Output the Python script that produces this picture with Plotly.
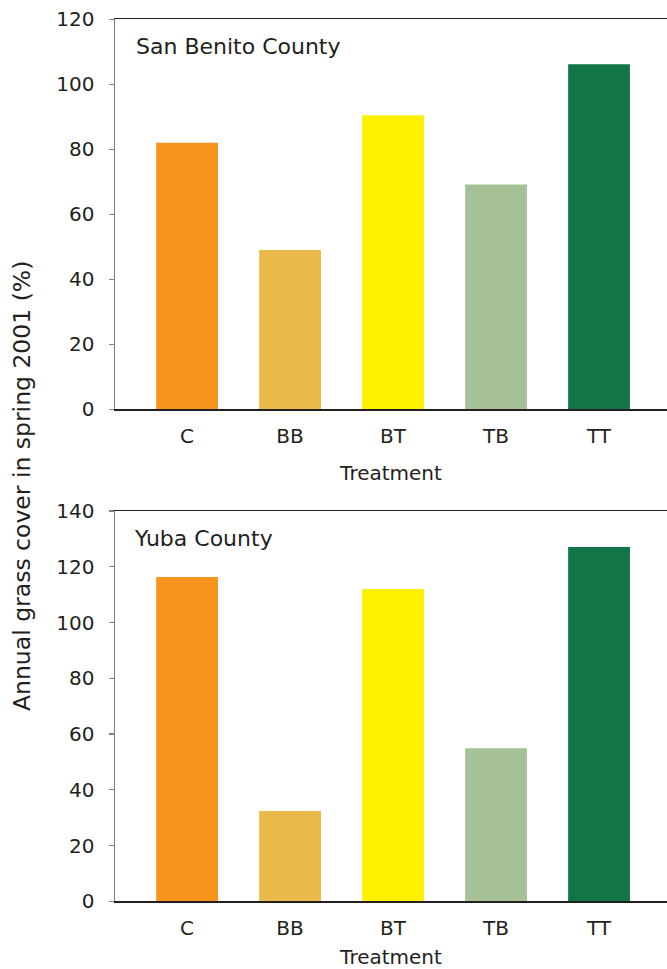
import plotly.graph_objects as go

treatments = ["C", "BB", "BT", "TB", "TT"]
san_benito = [82, 49, 90.5, 69.2, 106.2]
yuba = [116.3, 32.4, 112.0, 54.9, 127.1]
bar_colors = ["#F7941D", "#EBB94A", "#FFF000", "#A7C197", "#117548"]
y_ticks_top = [0, 20, 40, 60, 80, 100, 120]
y_ticks_bottom = [0, 20, 40, 60, 80, 100, 120, 140]

FONT = "DejaVu Sans"
TXT = "#231F20"
H = 969.0
W = 667.0

fig = go.Figure()
fig.add_trace(go.Bar(x=treatments, y=san_benito, marker=dict(color=bar_colors, line=dict(width=0)),
                     xaxis="x", yaxis="y", showlegend=False))
fig.add_trace(go.Bar(x=treatments, y=yuba, marker=dict(color=bar_colors, line=dict(width=0)),
                     xaxis="x2", yaxis="y2", showlegend=False))

def xax(anchor, standoff):
    return dict(anchor=anchor, domain=[0, 1], range=[-0.7, 4.66], showline=True, linecolor="#231F20",
                linewidth=1.5, mirror=True, ticks="", showgrid=False, zeroline=False,
                tickfont=dict(family=FONT, size=20, color=TXT), ticklabelstandoff=8,
                title=dict(text="Treatment", font=dict(family=FONT, size=20, color=TXT), standoff=standoff),
                automargin=False, fixedrange=True)

def yax(anchor, dom, rng, tickvals):
    return dict(anchor=anchor, domain=dom, range=rng, tickvals=tickvals, showline=True, linecolor="#808080",
                linewidth=1.5, ticks="outside", ticklen=5, tickcolor="#808080", tickwidth=1.2,
                showgrid=False, zeroline=False, ticklabelstandoff=10, automargin=False,
                tickfont=dict(family=FONT, size=20, color=TXT), fixedrange=True)

fig.update_layout(
    width=667, height=969,
    margin=dict(l=115, r=0, t=0, b=0, autoexpand=False),
    paper_bgcolor="white", plot_bgcolor="white",
    bargap=0.4,
    xaxis=xax("y", 19),
    yaxis=yax("x", [1 - 409.3 / H, 1 - 19.3 / H], [0, 120], y_ticks_top),
    xaxis2=xax("y2", 12),
    yaxis2=yax("x2", [1 - 901.3 / H, 1 - 511 / H], [0, 140], y_ticks_bottom),
    annotations=[
        dict(text="San Benito County", xref="paper", yref="paper", x=(134 - 115) / (W - 115),
             y=1 - 47 / H, xanchor="left", yanchor="middle", showarrow=False,
             font=dict(family=FONT, size=22, color=TXT)),
        dict(text="Yuba County", xref="paper", yref="paper", x=(132 - 115) / (W - 115),
             y=1 - 538 / H, xanchor="left", yanchor="middle", showarrow=False,
             font=dict(family=FONT, size=22, color=TXT)),
        dict(text="Annual grass cover in spring 2001 (%)", xref="paper", yref="paper",
             x=(22 - 115) / (W - 115), y=1 - 486 / H, xanchor="center", yanchor="middle",
             textangle=-90, showarrow=False, font=dict(family=FONT, size=23.5, color=TXT)),
    ],
)

fig.write_html(
    "out.html",
    config={"displayModeBar": False, "staticPlot": True},
    post_script="document.body.style.margin='0';document.body.style.overflow='hidden';",
)
